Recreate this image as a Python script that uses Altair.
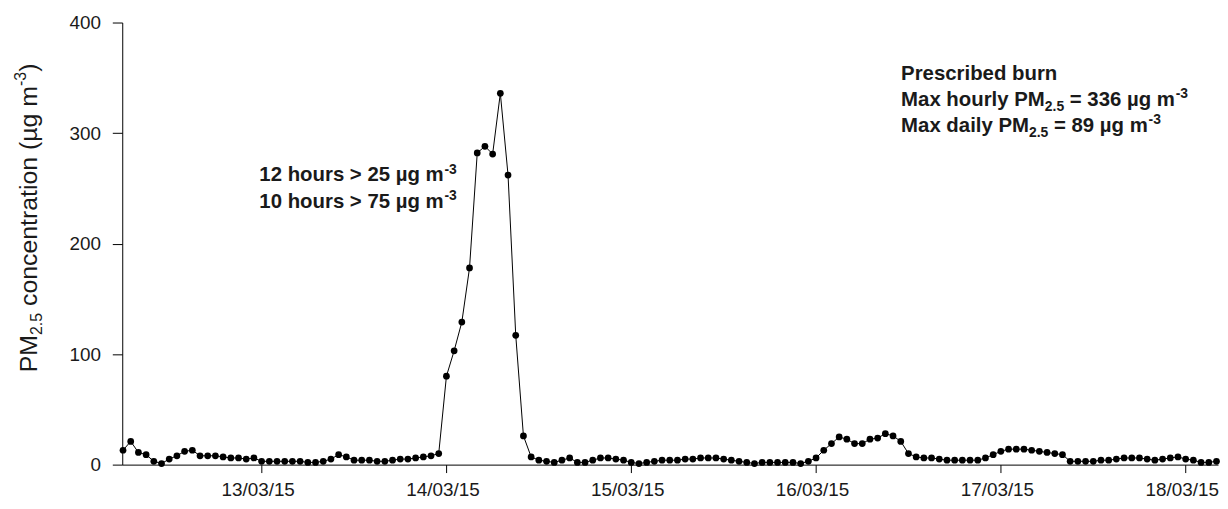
import altair as alt
import pandas as pd

# ---------------- data (hourly PM2.5, µg m-3) ----------------
first_hour = "2015-03-12T06:00:00Z"
pm_12 = [13, 21, 11, 9, 3, 1, 5, 8, 12, 13, 8, 8, 8, 7, 6, 6, 5, 6]
pm_13 = [3, 3, 3, 3, 3, 3, 2, 2, 3, 5, 9, 7, 4, 4, 4, 3, 3, 4, 5, 5, 6, 7, 8, 10]
pm_14 = [80, 103, 129, 178, 282, 288, 281, 336, 262, 117, 26, 7, 4, 3, 2, 4, 6, 2, 2, 4, 6, 6, 5, 4]
pm_15 = [2, 1, 2, 3, 4, 4, 4, 5, 5, 6, 6, 6, 5, 4, 3, 2, 1, 2, 2, 2, 2, 2, 1, 3]
pm_16 = [6, 13, 19, 25, 23, 19, 19, 23, 24, 28, 26, 21, 10, 7, 6, 6, 5, 4, 4, 4, 4, 4, 6, 9]
pm_17 = [12, 14, 14, 14, 13, 12, 11, 10, 9, 3, 3, 3, 3, 4, 4, 5, 6, 6, 6, 5, 4, 5, 6, 7]
pm_18 = [5, 4, 2, 2, 3]

tick_days = ["2015-03-13", "2015-03-14", "2015-03-15", "2015-03-16", "2015-03-17", "2015-03-18"]
x_domain = ["2015-03-12T05:54:00Z", "2015-03-18T04:12:00Z"]
y_ticks = [0, 100, 200, 300, 400]

values = pm_12 + pm_13 + pm_14 + pm_15 + pm_16 + pm_17 + pm_18
times = pd.date_range(pd.Timestamp(first_hour), periods=len(values), freq="h")
df = pd.DataFrame({"time": times.strftime("%Y-%m-%dT%H:%M:%SZ"), "pm": values})


def ms(s):
    t = pd.Timestamp(s)
    if t.tzinfo is None:
        t = t.tz_localize("UTC")
    return int(t.timestamp() * 1000)


W, H = 1103, 445
FONT = "Liberation Sans"
TXT = "#1a1a1a"

x_enc = alt.X(
    "time:T",
    scale=alt.Scale(type="utc", domain=[ms(d) for d in x_domain]),
    axis=alt.Axis(
        values=[ms(d) for d in tick_days],
        labelExpr="utcFormat(datum.value, '%d/%m/%y')",
        title="", grid=False, tickSize=8, labelPadding=8, labelFontSize=19,
        labelOffset=-4,
        labelColor=TXT, labelFont=FONT, domainColor="black", tickColor="black",
        labelFlush=False, labelOverlap=False,
    ),
)
y_enc = alt.Y(
    "pm:Q",
    scale=alt.Scale(domain=[0, 400], nice=False),
    axis=alt.Axis(
        values=y_ticks, title="", grid=False, tickSize=10, labelPadding=12,
        labelFontSize=19, labelColor=TXT, labelFont=FONT,
        domainColor="black", tickColor="black",
    ),
)

base = alt.Chart(df).encode(x=x_enc, y=y_enc)
line = base.mark_line(color="black", strokeWidth=1)
pts = base.mark_circle(color="black", size=46, opacity=1)

# ---------------- text helpers (rich text built from runs) ----------------
REG = {" ": 278, "P": 667, "M": 833, ".": 278, "c": 500, "o": 556, "n": 556, "e": 556,
       "t": 278, "r": 333, "a": 556, "i": 222, "(": 333, ")": 333, "µ": 576, "g": 556,
       "m": 833, "-": 333}
BOLD = {" ": 278, "P": 667, "M": 833, "a": 556, "x": 556, "h": 611, "o": 611, "u": 611,
        "r": 389, "l": 278, "y": 556, "d": 611, "i": 278, "=": 584, "µ": 611, "g": 611,
        "m": 889, "-": 333, ".": 278, "s": 556, ">": 584, "b": 611, "c": 556, "e": 556,
        "n": 611}


def width(txt, bold, size):
    tab = BOLD if bold else REG
    return sum(556 if ch.isdigit() else tab.get(ch, 556) for ch in txt) * size / 1000.0


def text_layer(txt, x, y, size, bold, angle=0):
    props = dict(align="left", baseline="alphabetic", fontSize=size, font=FONT,
                 fontWeight="bold" if bold else "normal", color=TXT)
    if angle:
        props["angle"] = angle
    return alt.Chart(pd.DataFrame({"t": [txt]})).mark_text(**props).encode(
        x=alt.value(x), y=alt.value(y), text="t:N")


def rich(parts, x0, y0, bold, angle=0):
    layers = []
    pos = 0.0
    for txt, size, shift in parts:
        lead = len(txt) - len(txt.lstrip(" "))
        pos_t = pos + width(txt[:lead], bold, size)
        if angle == 270:
            x, y = x0 + shift, y0 - pos_t
        else:
            x, y = x0 + pos_t, y0 + shift
        layers.append(text_layer(txt.strip(), x, y, size, bold, angle))
        pos += width(txt, bold, size)
    return layers


texts = []
# y-axis title (rotated)
texts += rich([("PM", 25, 0), ("2.5", 16, 5), (" concentration (µg m", 25, 0),
               ("-3", 16, -11), (")", 25, 0)], -86, 352, False, angle=270)
# right annotation block
bs = 20.5
sb = 14
texts += rich([("Prescribed burn", bs, 0)], 784, 57.5, True)
texts += rich([("Max hourly PM", bs, 0), ("2.5", sb, 5), (" = 336 µg m", bs, 0), ("-3", sb, -8)],
              784, 84, True)
texts += rich([("Max daily PM", bs, 0), ("2.5", sb, 5), (" = 89 µg m", bs, 0), ("-3", sb, -8)],
              784, 110.5, True)
# middle annotation block
texts += rich([("12 hours > 25 µg m", bs, 0), ("-3", sb, -8)], 138, 160, True)
texts += rich([("10 hours > 75 µg m", bs, 0), ("-3", sb, -8)], 138, 187, True)

chart = alt.layer(line, pts, *texts).properties(
    width=W, height=H,
    autosize=alt.AutoSizeParams(type="none"),
    padding={"left": 115, "top": 13, "right": 2, "bottom": 35},
    background="white",
).configure_view(strokeWidth=0).configure_axis(domainWidth=1, tickWidth=1)

chart.save("out.html", embed_options={"renderer": "svg", "actions": False})
